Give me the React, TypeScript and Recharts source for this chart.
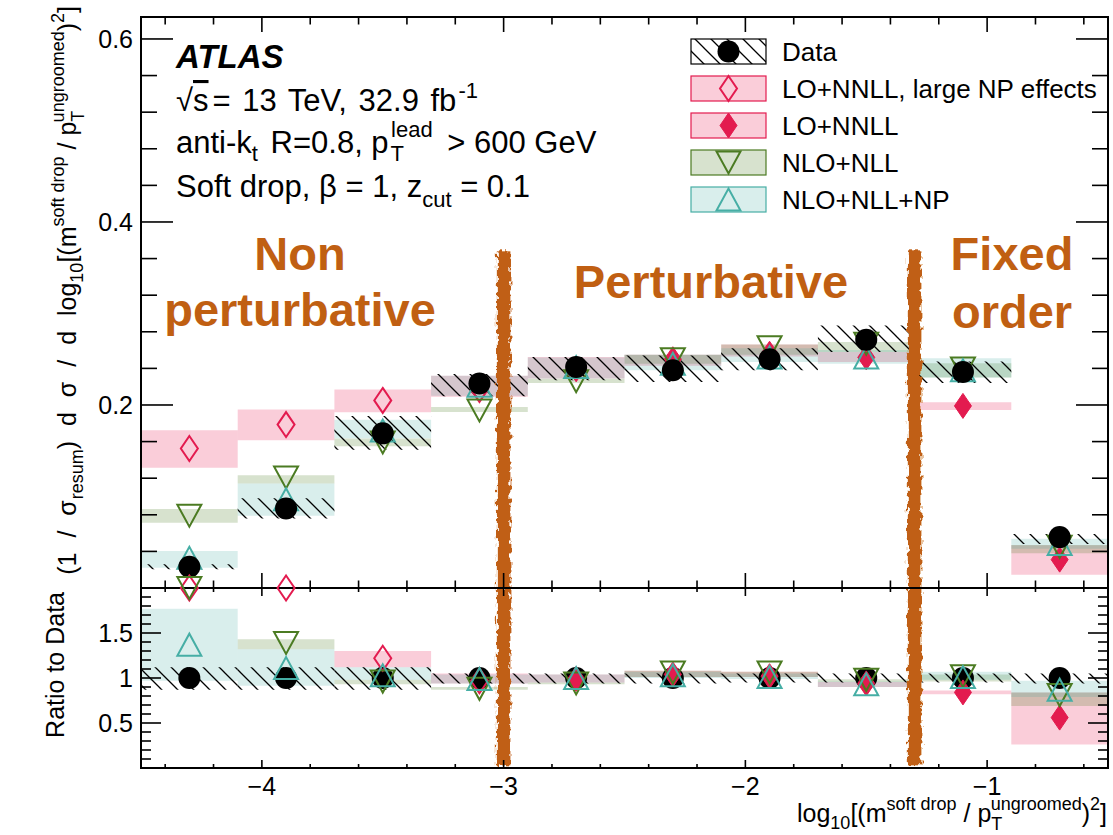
import React from "react";
import { ComposedChart, Scatter, XAxis, YAxis, ReferenceArea } from "recharts";

const FONT = "'Liberation Sans', Arial, Helvetica, sans-serif";

// bins in log10[(m/pT)^2]
const binCenters = [-4.3, -3.9, -3.5, -3.1, -2.7, -2.3, -1.9, -1.5, -1.1, -0.7];
const binLow = [-4.5, -4.1, -3.7, -3.3, -2.9, -2.5, -2.1, -1.7, -1.3, -0.9];
const binHigh = [-4.1, -3.7, -3.3, -2.9, -2.5, -2.1, -1.7, -1.3, -0.9, -0.5];

// Data (black points, hatched uncertainty)
const dataVal = [0.0233, 0.087, 0.169, 0.2235, 0.2415, 0.238, 0.25, 0.2713, 0.236, 0.0556];
const dataLo = [0.0205, 0.076, 0.151, 0.2095, 0.227, 0.225, 0.238, 0.258, 0.224, 0.048];
const dataHi = [0.026, 0.098, 0.188, 0.234, 0.2525, 0.254, 0.262, 0.287, 0.2475, 0.059];
const dataRatio = [1, 1, 1, 1, 1, 1, 1, 1, 1, 1];
const dataRatioLo = [0.87, 0.87, 0.87, 0.94, 0.94, 0.94, 0.95, 0.95, 0.95, 0.94];
const dataRatioHi = [1.12, 1.12, 1.12, 1.05, 1.05, 1.05, 1.05, 1.05, 1.05, 1.05];

// LO+NNLL, large NP effects (open diamond)
const largeNpVal = [0.1524, 0.1786, 0.205, 0.217, null, null, null, null, null, null];
const largeNpLo = [0.1313, 0.1615, 0.192, 0.209, null, null, null, null, null, null];
const largeNpHi = [0.1724, 0.195, 0.217, 0.232, null, null, null, null, null, null];
const largeNpRatio = [6.5, 2.05, 1.22, 0.97, null, null, null, null, null, null];
const largeNpRatioLo = [5.6, 2.02, 1.12, 0.94, null, null, null, null, null, null];
const largeNpRatioHi = [7.4, 2.4, 1.3, 1.05, null, null, null, null, null, null];

// LO+NNLL (filled diamond)
const loNnllVal = [null, null, null, null, 0.239, 0.25, 0.256, 0.252, 0.199, 0.031];
const loNnllLo = [null, null, null, null, 0.229, 0.243, 0.253, 0.247, 0.1945, 0.0146];
const loNnllHi = [null, null, null, null, 0.2525, 0.255, 0.266, 0.258, 0.203, 0.0467];
const loNnllRatio = [null, null, null, null, 0.99, 1.04, 1.02, 0.94, 0.84, 0.56];
const loNnllRatioLo = [null, null, null, null, 0.95, 1.01, 1.01, 0.9, 0.82, 0.26];
const loNnllRatioHi = [null, null, null, null, 1.04, 1.08, 1.07, 0.955, 0.86, 0.84];

// NLO+NLL (open triangle down)
const nloNllVal = [0.079, 0.1208, 0.159, 0.194, 0.226, 0.25, 0.263, 0.267, 0.24, 0.045];
const nloNllLo = [0.0713, 0.1142, 0.155, 0.1924, 0.224, 0.245, 0.255, 0.258, 0.23, 0.038];
const nloNllHi = [0.0862, 0.1233, 0.1633, 0.1978, 0.2288, 0.255, 0.266, 0.2688, 0.2457, 0.047];
const nloNllRatio = [3.4, 1.39, 0.96, 0.88, 0.94, 1.06, 1.06, 0.98, 1.02, 0.81];
const nloNllRatioLo = [3.06, 1.32, 0.93, 0.87, 0.93, 1.01, 1.01, 0.955, 0.96, 0.69];
const nloNllRatioHi = [3.7, 1.43, 0.98, 0.9, 0.95, 1.08, 1.07, 0.985, 1.04, 0.84];

// NLO+NLL+NP (open triangle up)
const nloNpVal = [0.033, 0.097, 0.172, 0.221, 0.2415, 0.245, 0.252, 0.252, 0.238, 0.048];
const nloNpLo = [0.0222, 0.0789, 0.1637, 0.21, 0.229, 0.238, 0.247, 0.245, 0.23, 0.043];
const nloNpHi = [0.0404, 0.1142, 0.184, 0.232, 0.252, 0.255, 0.262, 0.26, 0.251, 0.0537];
const nloNpRatio = [1.37, 1.11, 1.03, 0.99, 1.0, 1.03, 1.01, 0.93, 1.01, 0.87];
const nloNpRatioLo = [0.97, 0.915, 0.98, 0.94, 0.95, 1.0, 0.99, 0.9, 0.98, 0.79];
const nloNpRatioHi = [1.77, 1.32, 1.12, 1.04, 1.04, 1.07, 1.05, 0.96, 1.07, 0.97];

// region boundaries (orange markers)
const regionCuts = [-3.0, -1.3];

// axis ticks
const xMajor = [-4, -3, -2, -1];
const xMinor = [-4.4, -4.2, -3.8, -3.6, -3.4, -3.2, -2.8, -2.6, -2.4, -2.2, -1.8, -1.6, -1.4, -1.2, -0.8, -0.6];
const xLabels = ["\u22124", "\u22123", "\u22122", "\u22121"];
const yTopMajor = [0, 0.2, 0.4, 0.6];
const yTopMinor = [0.04, 0.08, 0.12, 0.16, 0.24, 0.28, 0.32, 0.36, 0.44, 0.48, 0.52, 0.56];
const yTopLabels = ["", "0.2", "0.4", "0.6"];
const yRatioMajor = [0.5, 1, 1.5];
const yRatioMinor = [0.1, 0.2, 0.3, 0.4, 0.6, 0.7, 0.8, 0.9, 1.1, 1.2, 1.3, 1.4, 1.6, 1.7, 1.8, 1.9];
const yRatioLabels = ["0.5", "1", "1.5"];

const TOP_MAX = 0.624;
const RATIO_MAX = 2;
const PLOT_W = 967;

const PINK = "#e31b4f";
const PINK_BAND = "#e8265a";
const GREEN = "#4b7b22";
const TEAL = "#46aea5";
const TEAL_BAND = "#3fa9a0";
const ORANGE = "#c05f12";

type Num = number | null;

const pts = (vals: Num[], max?: number) =>
  binCenters
    .map((x, i) => ({ x, y: vals[i] }))
    .filter(p => p.y != null)
    .map(p => ({ x: p.x, y: max != null ? Math.min(p.y as number, max) : (p.y as number) }));

function bands(lo: Num[], hi: Num[], fill: string, opacity: number, key: string, max: number) {
  return binLow.map((x1, i) => {
    const a = lo[i];
    const b = hi[i];
    if (a == null || b == null || a >= max) return null;
    return (
      <ReferenceArea key={key + i} x1={x1} x2={binHigh[i]} y1={a} y2={Math.min(b, max)}
        fill={fill} fillOpacity={opacity} stroke="none" ifOverflow="visible" />
    );
  });
}

// markers
const Dot = (p: any) => <circle cx={p.cx} cy={p.cy} r={11} fill="#000" />;
const OpenDiamond = (p: any) => (
  <polygon points={`${p.cx},${p.cy - 12.5} ${p.cx + 8.5},${p.cy} ${p.cx},${p.cy + 12.5} ${p.cx - 8.5},${p.cy}`}
    fill="none" stroke={PINK} strokeWidth={2} />
);
const FullDiamond = (p: any) => (
  <polygon points={`${p.cx},${p.cy - 12.5} ${p.cx + 8.5},${p.cy} ${p.cx},${p.cy + 12.5} ${p.cx - 8.5},${p.cy}`}
    fill={PINK} stroke={PINK} strokeWidth={1} />
);
const TriDown = (p: any) => (
  <polygon points={`${p.cx - 12},${p.cy - 11} ${p.cx + 12},${p.cy - 11} ${p.cx},${p.cy + 11}`}
    fill="none" stroke={GREEN} strokeWidth={2} />
);
const TriUp = (p: any) => (
  <polygon points={`${p.cx - 12},${p.cy + 11} ${p.cx + 12},${p.cy + 11} ${p.cx},${p.cy - 11}`}
    fill="none" stroke={TEAL} strokeWidth={2} />
);

function yTick(major: number[], labels: string[], majLen: number, minLen: number) {
  return (p: any) => {
    const idx = major.indexOf(p.payload.value);
    const len = idx >= 0 ? majLen : minLen;
    return (
      <g>
        <line x1={p.x} x2={p.x + len} y1={p.y} y2={p.y} stroke="#000" strokeWidth={1.6} />
        <line x1={p.x + PLOT_W} x2={p.x + PLOT_W - len} y1={p.y} y2={p.y} stroke="#000" strokeWidth={1.6} />
        {idx >= 0 && labels[idx] ? (
          <text x={p.x - 8} y={p.y} textAnchor="end" dominantBaseline="central" fontSize={25} fontFamily={FONT} fill="#000">
            {labels[idx]}
          </text>
        ) : null}
      </g>
    );
  };
}

function xTick(major: number[], labels: string[] | null, majLen: number, minLen: number, plotH: number) {
  return (p: any) => {
    const idx = major.indexOf(p.payload.value);
    const len = idx >= 0 ? majLen : minLen;
    return (
      <g>
        <line x1={p.x} x2={p.x} y1={p.y} y2={p.y - len} stroke="#000" strokeWidth={1.6} />
        <line x1={p.x} x2={p.x} y1={p.y - plotH} y2={p.y - plotH + len} stroke="#000" strokeWidth={1.6} />
        {labels && idx >= 0 ? (
          <text x={p.x} y={p.y + 27} textAnchor="middle" fontSize={25} fontFamily={FONT} fill="#000">
            {labels[idx]}
          </text>
        ) : null}
      </g>
    );
  };
}

const roughFilter = (id: string) => (
  <filter id={id} x="-80%" y="-3%" width="260%" height="106%">
    <feTurbulence type="fractalNoise" baseFrequency="0.3 0.15" numOctaves={2} seed={4} result="n" />
    <feDisplacementMap in="SourceGraphic" in2="n" scale={8} xChannelSelector="R" yChannelSelector="G" />
  </filter>
);
const hatch = (id: string) => (
  <pattern id={id} patternUnits="userSpaceOnUse" width={16} height={16}>
    <path d="M0,0 L16,16 M-8,8 L8,24 M8,-8 L24,8" stroke="#000" strokeWidth={1.3} />
  </pattern>
);
const roughShape = (id: string) => (p: any) => (
  <rect x={p.x} y={p.y} width={p.width} height={p.height} fill={ORANGE} filter={`url(#${id})`} />
);

function TopPanel() {
  return (
    <ComposedChart width={1113} height={600} margin={{ top: 17, right: 5, bottom: 2, left: 101 }}>
      <defs>
        {hatch("hatchTop")}
        {roughFilter("roughTop")}
      </defs>
      <XAxis type="number" dataKey="x" domain={[-4.5, -0.5]} ticks={[...xMajor, ...xMinor]} interval={0}
        height={10} tickSize={0} tickMargin={0} axisLine={false} tickLine={false}
        tick={xTick(xMajor, null, 15, 7.5, 571)} />
      <YAxis type="number" dataKey="y" domain={[0, TOP_MAX]} ticks={[...yTopMajor, ...yTopMinor]} interval={0}
        width={40} tickSize={0} tickMargin={0} axisLine={false} tickLine={false}
        tick={yTick(yTopMajor, yTopLabels, 32, 16)} />
      {bands(largeNpLo, largeNpHi, PINK_BAND, 0.23, "lnp", TOP_MAX)}
      {bands(loNnllLo, loNnllHi, PINK_BAND, 0.23, "lo", TOP_MAX)}
      {bands(nloNllLo, nloNllHi, GREEN, 0.22, "nlo", TOP_MAX)}
      {bands(nloNpLo, nloNpHi, TEAL_BAND, 0.2, "np", TOP_MAX)}
      {binLow.map((x1, i) => (
        <ReferenceArea key={"dh" + i} x1={x1} x2={binHigh[i]} y1={dataLo[i]} y2={dataHi[i]}
          fill="url(#hatchTop)" fillOpacity={1} stroke="none" ifOverflow="visible" />
      ))}
      {regionCuts.map((c, i) => (
        <ReferenceArea key={"cut" + i} x1={c - 0.028} x2={c + 0.028} y1={0} y2={0.369}
          ifOverflow="visible" shape={roughShape("roughTop")} />
      ))}
      <ReferenceArea x1={-4.5} x2={-0.5} y1={0} y2={TOP_MAX} fill="none" stroke="#000" strokeWidth={2} ifOverflow="visible" />
      <Scatter data={pts(largeNpVal)} shape={OpenDiamond} isAnimationActive={false} />
      <Scatter data={pts(loNnllVal)} shape={FullDiamond} isAnimationActive={false} />
      <Scatter data={pts(nloNllVal)} shape={TriDown} isAnimationActive={false} />
      <Scatter data={pts(nloNpVal)} shape={TriUp} isAnimationActive={false} />
      <Scatter data={pts(dataVal)} shape={Dot} isAnimationActive={false} />
    </ComposedChart>
  );
}

function RatioPanel() {
  return (
    <ComposedChart width={1113} height={275} margin={{ top: 28, right: 5, bottom: 27, left: 101 }}>
      <defs>
        {hatch("hatchRatio")}
        {roughFilter("roughRatio")}
      </defs>
      <XAxis type="number" dataKey="x" domain={[-4.5, -0.5]} ticks={[...xMajor, ...xMinor]} interval={0}
        height={40} tickSize={0} tickMargin={0} axisLine={false} tickLine={false}
        tick={xTick(xMajor, xLabels, 8, 4, 180)} />
      <YAxis type="number" dataKey="y" domain={[0, RATIO_MAX]} ticks={[...yRatioMajor, ...yRatioMinor]} interval={0}
        width={40} tickSize={0} tickMargin={0} axisLine={false} tickLine={false}
        tick={yTick(yRatioMajor, yRatioLabels, 20, 10)} />
      {bands(largeNpRatioLo, largeNpRatioHi, PINK_BAND, 0.23, "lnp", RATIO_MAX)}
      {bands(loNnllRatioLo, loNnllRatioHi, PINK_BAND, 0.23, "lo", RATIO_MAX)}
      {bands(nloNllRatioLo, nloNllRatioHi, GREEN, 0.22, "nlo", RATIO_MAX)}
      {bands(nloNpRatioLo, nloNpRatioHi, TEAL_BAND, 0.2, "np", RATIO_MAX)}
      {binLow.map((x1, i) => (
        <ReferenceArea key={"dh" + i} x1={x1} x2={binHigh[i]} y1={dataRatioLo[i]} y2={dataRatioHi[i]}
          fill="url(#hatchRatio)" fillOpacity={1} stroke="none" ifOverflow="visible" />
      ))}
      {regionCuts.map((c, i) => (
        <ReferenceArea key={"cut" + i} x1={c - 0.028} x2={c + 0.028} y1={0.03} y2={RATIO_MAX}
          ifOverflow="visible" shape={roughShape("roughRatio")} />
      ))}
      <ReferenceArea x1={-4.5} x2={-0.5} y1={0} y2={RATIO_MAX} fill="none" stroke="#000" strokeWidth={2} ifOverflow="visible" />
      <Scatter data={pts(dataRatio)} shape={Dot} isAnimationActive={false} />
      <Scatter data={pts(largeNpRatio, RATIO_MAX)} shape={OpenDiamond} isAnimationActive={false} />
      <Scatter data={pts(loNnllRatio, RATIO_MAX)} shape={FullDiamond} isAnimationActive={false} />
      <Scatter data={pts(nloNllRatio, RATIO_MAX)} shape={TriDown} isAnimationActive={false} />
      <Scatter data={pts(nloNpRatio, RATIO_MAX)} shape={TriUp} isAnimationActive={false} />
    </ComposedChart>
  );
}

const legendRows = [
  { label: "Data", y: 51.5 },
  { label: "LO+NNLL, large NP effects", y: 88.5 },
  { label: "LO+NNLL", y: 125.5 },
  { label: "NLO+NLL", y: 162.5 },
  { label: "NLO+NLL+NP", y: 199.5 },
];

function Overlay() {
  const lx = 691;
  const lw = 75;
  const mx = lx + lw / 2;
  const boxes = [
    { fill: "url(#hatchLegend)", op: 1, stroke: "#000", marker: <Dot cx={mx} cy={legendRows[0].y} /> },
    { fill: PINK_BAND, op: 0.23, stroke: PINK, marker: <OpenDiamond cx={mx} cy={legendRows[1].y} /> },
    { fill: PINK_BAND, op: 0.23, stroke: PINK, marker: <FullDiamond cx={mx} cy={legendRows[2].y} /> },
    { fill: GREEN, op: 0.22, stroke: GREEN, marker: <TriDown cx={mx} cy={legendRows[3].y} /> },
    { fill: TEAL_BAND, op: 0.2, stroke: TEAL, marker: <TriUp cx={mx} cy={legendRows[4].y} /> },
  ];
  const sub = 22;
  return (
    <svg width={1113} height={835} style={{ position: "absolute", left: 0, top: 0, pointerEvents: "none" }}
      fontFamily={FONT}>
      <defs>{hatch("hatchLegend")}</defs>
      {legendRows.map((r, i) => (
        <g key={r.label}>
          <rect x={lx} y={r.y - 12.5} width={lw} height={25} fill={boxes[i].fill} fillOpacity={boxes[i].op} stroke="none" />
          <rect x={lx} y={r.y - 12.5} width={lw} height={25} fill="none" stroke={boxes[i].stroke} strokeWidth={1.2} />
          {boxes[i].marker}
          <text x={782} y={r.y} dominantBaseline="central" fontSize={26}>{r.label}</text>
        </g>
      ))}

      <text x={176} y={68} fontSize={33} fontWeight="bold" fontStyle="italic">ATLAS</text>
      <text x={176} y={111} fontSize={31}>
        √<tspan textDecoration="overline">s</tspan>
        <tspan dx={4} style={{ wordSpacing: 3 }}>= 13 TeV, 32.9 fb</tspan>
        <tspan fontSize={sub} dy={-13} dx={2}>-1</tspan>
      </text>
      <text x={176} y={153} fontSize={31}>
        anti-k<tspan fontSize={sub} dy={8}>t</tspan><tspan dy={-8} dx={4}> R=0.8, p</tspan>
        <tspan fontSize={sub} dy={8} dx={2}>T</tspan><tspan fontSize={sub} dx={-13} dy={-24}>lead</tspan>
        <tspan dy={16} dx={6}> &gt; 600 GeV</tspan>
      </text>
      <text x={176} y={197} fontSize={31}>
        Soft drop, β = 1, z<tspan fontSize={sub} dy={10}>cut</tspan><tspan dy={-10}> = 0.1</tspan>
      </text>

      <g fill={ORANGE} fontWeight="bold" fontSize={47} textAnchor="middle">
        <text x={300} y={270}>Non</text>
        <text x={300} y={326}>perturbative</text>
        <text x={711} y={298}>Perturbative</text>
        <text x={1012} y={270}>Fixed</text>
        <text x={1012} y={328}>order</text>
      </g>

      <text transform="translate(76,6) rotate(-90)" textAnchor="end" fontSize={25}>
        <tspan style={{ wordSpacing: 8 }}>(1 / σ</tspan><tspan fontSize={18} dy={7} dx={1}>resum</tspan>
        <tspan dy={-7} style={{ wordSpacing: 8 }}>) d σ / d log</tspan>
        <tspan fontSize={18} dy={7}>10</tspan><tspan dy={-7}>[(m</tspan>
        <tspan fontSize={18} dy={-12}>soft drop</tspan><tspan dy={12}> / p</tspan>
        <tspan fontSize={18} dy={8}>T</tspan><tspan fontSize={18} dx={-11} dy={-20}>ungroomed</tspan>
        <tspan dy={12}>)</tspan><tspan fontSize={18} dy={-12}>2</tspan><tspan dy={12}>]</tspan>
      </text>
      <text transform="translate(64,592) rotate(-90)" textAnchor="end" fontSize={25}>Ratio to Data</text>

      <text x={1107} y={822} textAnchor="end" fontSize={25}>
        log<tspan fontSize={18} dy={7}>10</tspan><tspan dy={-7}>[(m</tspan>
        <tspan fontSize={18} dy={-12}>soft drop</tspan><tspan dy={12}> / p</tspan>
        <tspan fontSize={18} dy={8}>T</tspan><tspan fontSize={18} dx={-11} dy={-20}>ungroomed</tspan>
        <tspan dy={12}>)</tspan><tspan fontSize={18} dy={-12}>2</tspan><tspan dy={12}>]</tspan>
      </text>
    </svg>
  );
}

export default function App() {
  return (
    <div style={{ position: "absolute", left: 0, top: 0, width: 1113, height: 835, background: "#fff", fontFamily: FONT }}>
      <div style={{ position: "absolute", left: 0, top: 0 }}>
        <TopPanel />
      </div>
      <div style={{ position: "absolute", left: 0, top: 560 }}>
        <RatioPanel />
      </div>
      <Overlay />
    </div>
  );
}
